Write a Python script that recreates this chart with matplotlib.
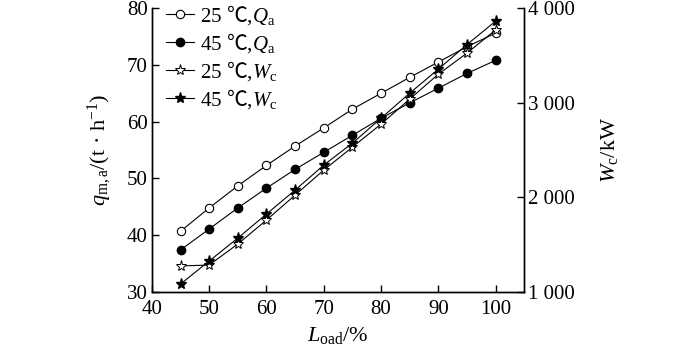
import matplotlib
matplotlib.use("Agg")
import matplotlib.pyplot as plt
from matplotlib.ticker import FuncFormatter

load = [45, 50, 55, 60, 65, 70, 75, 80, 85, 90, 95, 100]
qa_25 = [40.7, 44.8, 48.7, 52.3, 55.7, 58.9, 62.2, 65.0, 67.8, 70.5, 73.2, 75.6]
qa_45 = [37.4, 41.1, 44.8, 48.3, 51.6, 54.6, 57.6, 60.6, 63.3, 65.9, 68.5, 70.8]
wc_25 = [1275, 1285, 1507, 1760, 2024, 2288, 2531, 2774, 3038, 3302, 3524, 3770]
wc_45 = [1084, 1327, 1570, 1824, 2077, 2341, 2573, 2837, 3101, 3355, 3615, 3862]

# the degree sign is drawn via \mathsf, mapped to a CJK font that has it
labels = ["25 $\\mathsf{℃}$,$Q_{\\mathrm{a}}$", "45 $\\mathsf{℃}$,$Q_{\\mathrm{a}}$",
          "25 $\\mathsf{℃}$,$W_{\\mathrm{c}}$", "45 $\\mathsf{℃}$,$W_{\\mathrm{c}}$"]


def main():
    plt.rcParams['font.family'] = ['Liberation Serif', 'Noto Sans CJK SC']
    plt.rcParams['mathtext.fontset'] = 'custom'
    plt.rcParams['mathtext.rm'] = 'Liberation Serif'
    plt.rcParams['mathtext.it'] = 'Liberation Serif:italic'
    plt.rcParams['mathtext.bf'] = 'Liberation Serif:bold'
    plt.rcParams['mathtext.sf'] = 'Noto Sans CJK SC'
    plt.rcParams['font.size'] = 15

    fig = plt.figure(figsize=(7, 3.52), dpi=100)
    ax = fig.add_axes([0.217, 0.1705, 0.532, 0.8065])
    ax2 = ax.twinx()

    kw = dict(color='black', lw=0.8)
    l1, = ax.plot(load, qa_25, marker='o', ms=6, mfc='white', mec='black', mew=0.8, **kw)
    l2, = ax.plot(load, qa_45, marker='o', ms=6, mfc='black', mec='black', **kw)
    l3, = ax2.plot(load, wc_25, marker='*', ms=8, mfc='white', mec='black', mew=0.7, **kw)
    l4, = ax2.plot(load, wc_45, marker='*', ms=8, mfc='black', mec='black', **kw)

    ax.set_xlim(40, 105)
    ax.set_ylim(30, 80)
    ax2.set_ylim(1000, 4000)
    ax.set_xticks(range(40, 101, 10))
    ax.set_yticks(range(30, 81, 10))
    ax2.set_yticks([1000, 2000, 3000, 4000])
    ax2.yaxis.set_major_formatter(FuncFormatter(lambda v, p: f"{int(v):,}".replace(",", " ")))

    for a in (ax, ax2):
        a.spines['top'].set_visible(False)
        for s in a.spines.values():
            s.set_linewidth(1.0)
        a.tick_params(direction='in', length=5, width=1.0, labelsize=15, pad=3)
    ax.tick_params(axis='x', pad=6)

    ax.set_xlabel("$L_{\\mathrm{oad}}$/%", fontsize=16, labelpad=4)
    ax.set_ylabel("$q_{\\mathrm{m,a}}$/(t · h$^{-1}$)", fontsize=16, labelpad=9)
    ax2.set_ylabel("$W_{\\mathrm{c}}$/kW", fontsize=16, labelpad=17)

    ax.legend([l1, l2, l3, l4], labels, loc='upper left', bbox_to_anchor=(0.0, 1.07),
              frameon=False, fontsize=15, handlelength=1.3, handletextpad=0.3,
              labelspacing=0.2, borderaxespad=0.3)

    fig.savefig("out.png", dpi=100)


if __name__ == "__main__":
    main()
